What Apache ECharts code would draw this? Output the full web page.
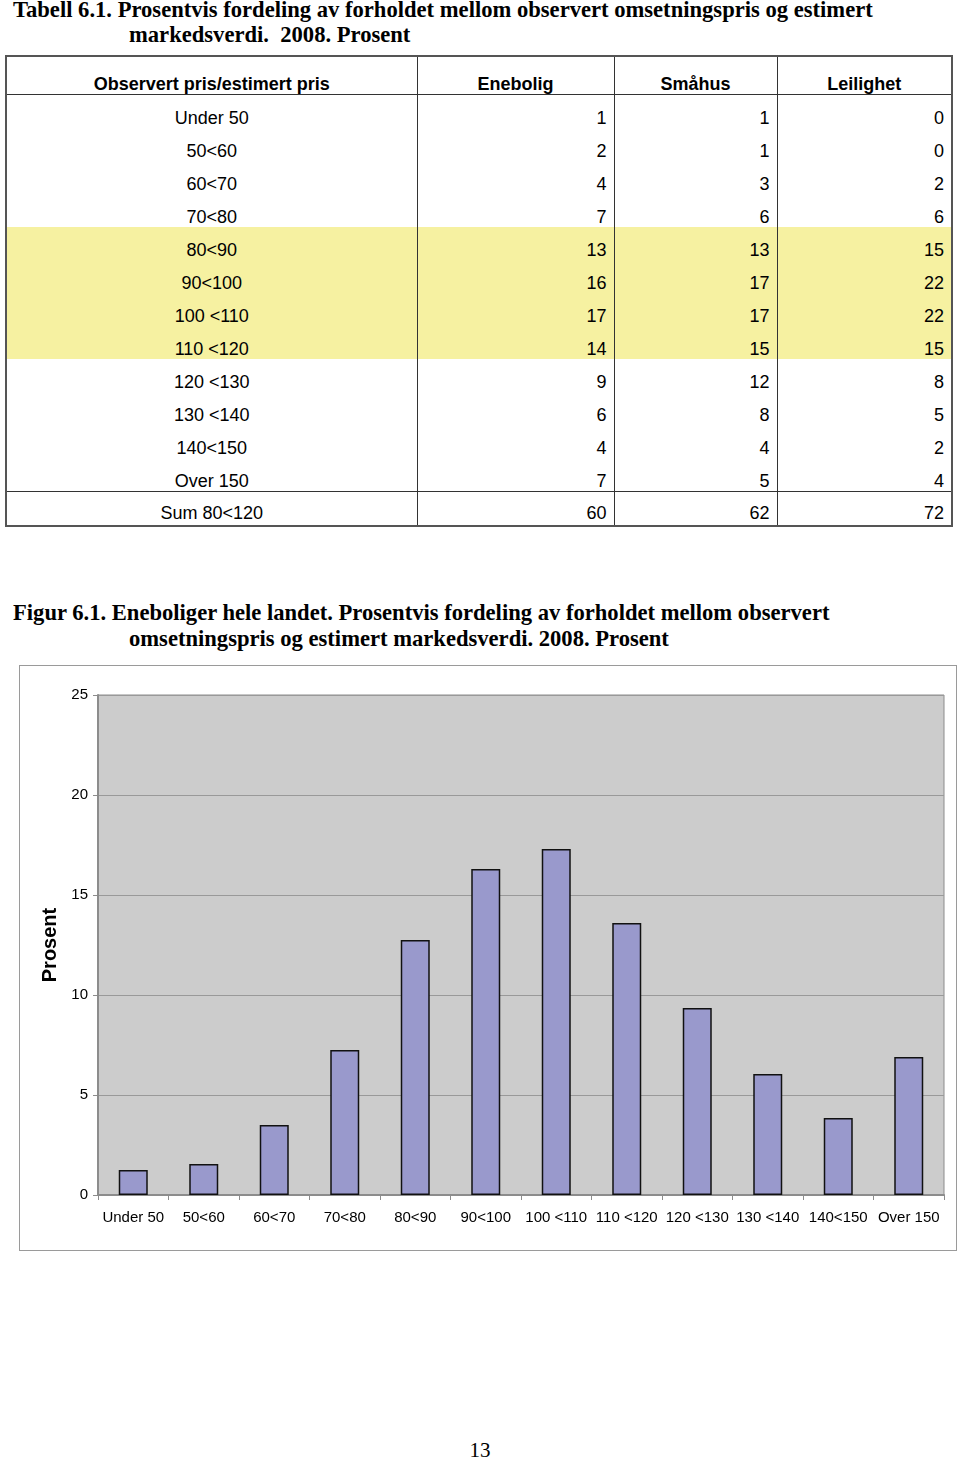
<!DOCTYPE html>
<html>
<head>
<meta charset="utf-8">
<script src="https://cdn.jsdelivr.net/npm/echarts@6/dist/echarts.min.js"></script>
<style>
  html, body { margin: 0; padding: 0; background: #fff; }
  body { width: 960px; height: 1461px; position: relative; overflow: hidden; }
  .ttl { position: absolute; font-family: "Liberation Serif", "Times New Roman", serif; font-weight: bold; font-size: 22.6px; color: #000; white-space: nowrap; line-height: 26px; }
  #tbl { position: absolute; left: 5px; top: 55px; border-collapse: collapse; table-layout: fixed; font-family: "Liberation Sans", Arial, sans-serif; font-size: 18px; color: #000; border: 2px solid #555; }
  #tbl td, #tbl th { padding: 0 7px; height: 33px; box-sizing: border-box; }
  #tbl td { padding-top: 13px; line-height: 20px; vertical-align: top; }
  #tbl th { font-weight: bold; height: 38px; vertical-align: bottom; line-height: 20px; padding-bottom: 0; border-bottom: 1.5px solid #333; }
  #tbl td.c0, #tbl th.c0 { text-align: center; }
  #tbl td.n { text-align: right; }
  #tbl .bl { border-left: 1px solid #333; }
  #tbl tr.hl td { background: #f6f1a1; }
  #tbl tr.sum td { border-top: 1.5px solid #333; height: 33px; padding-top: 9px; line-height: 24px; }
  #chartbox { position: absolute; left: 19px; top: 665px; width: 936px; height: 584px; border: 1px solid #9a9a9a; }
  #chart { width: 936px; height: 584px; }
  #pg { position: absolute; left: 0; width: 960px; top: 1438px; text-align: center; font-family: "Liberation Serif", "Times New Roman", serif; font-size: 21px; }
</style>
</head>
<body>
<div class="ttl" style="left:13px; top:-3px;">Tabell 6.1. Prosentvis fordeling av forholdet mellom observert omsetningspris og estimert</div>
<div class="ttl" style="left:129px; top:22px;">markedsverdi.&nbsp; 2008. Prosent</div>
<table id="tbl"></table>
<div class="ttl" style="left:13px; top:600px;">Figur 6.1. Eneboliger hele landet. Prosentvis fordeling av forholdet mellom observert</div>
<div class="ttl" style="left:129px; top:626px;">omsetningspris og estimert markedsverdi. 2008. Prosent</div>
<div id="chartbox"><div id="chart"></div></div>
<div id="pg">13</div>
<script>
// ---- Data ----
const tableHeaders = ["Observert pris/estimert pris", "Enebolig", "Småhus", "Leilighet"];
const tableCategories = ["Under 50", "50<60", "60<70", "70<80", "80<90", "90<100", "100 <110", "110 <120", "120 <130", "130 <140", "140<150", "Over 150"];
const enebolig = [1, 2, 4, 7, 13, 16, 17, 14, 9, 6, 4, 7];
const smahus = [1, 1, 3, 6, 13, 17, 17, 15, 12, 8, 4, 5];
const leilighet = [0, 0, 2, 6, 15, 22, 22, 15, 8, 5, 2, 4];
const highlightRows = ["80<90", "90<100", "100 <110", "110 <120"];
const sumLabel = "Sum 80<120";
const sumValues = [60, 62, 72];

const chartCategories = ["Under 50", "50<60", "60<70", "70<80", "80<90", "90<100", "100 <110", "110 <120", "120 <130", "130 <140", "140<150", "Over 150"];
const chartValues = [1.25, 1.55, 3.5, 7.25, 12.75, 16.3, 17.3, 13.6, 9.35, 6.05, 3.85, 6.9];
const yTicks = { min: 0, max: 25, interval: 5 };
const yAxisName = "Prosent";

// ---- Table ----
const tbl = document.getElementById('tbl');
const colW = [411, 197, 163, 175];
let html = '<colgroup>' + colW.map(w => '<col style="width:' + w + 'px">').join('') + '</colgroup><tr>';
tableHeaders.forEach((h, i) => {
  html += '<th class="' + (i === 0 ? 'c0' : 'bl') + '"' + (i > 0 ? ' style="text-align:center"' : '') + '>' + h + '</th>';
});
html += '</tr>';
const esc = s => s.replace(/</g, '&lt;');
tableCategories.forEach((c, i) => {
  const hl = highlightRows.indexOf(c) >= 0;
  html += '<tr' + (hl ? ' class="hl"' : '') + '><td class="c0">' + esc(c) + '</td>' +
    '<td class="n bl">' + enebolig[i] + '</td><td class="n bl">' + smahus[i] + '</td><td class="n bl">' + leilighet[i] + '</td></tr>';
});
html += '<tr class="sum"><td class="c0">' + esc(sumLabel) + '</td>' + sumValues.map(v => '<td class="n bl">' + v + '</td>').join('') + '</tr>';
tbl.innerHTML = html;

// ---- Chart ----
const chart = echarts.init(document.getElementById('chart'), null, { renderer: 'canvas' });
chart.setOption({
  animation: false,
  backgroundColor: '#ffffff',
  grid: {
    left: 78, right: 12, top: 29, bottom: 55,
    show: true, backgroundColor: '#cccccc', borderColor: '#8c8c8c', borderWidth: 1
  },
  xAxis: {
    type: 'category',
    data: chartCategories,
    axisLine: { show: true, lineStyle: { color: '#8c8c8c', width: 2 } },
    axisTick: { show: true, alignWithLabel: false, length: 5, lineStyle: { color: '#8c8c8c' } },
    axisLabel: { interval: 0, color: '#000', fontFamily: 'Liberation Sans, Arial, sans-serif', fontSize: 15, margin: 15 }
  },
  yAxis: {
    type: 'value',
    min: yTicks.min, max: yTicks.max, interval: yTicks.interval,
    name: yAxisName,
    nameLocation: 'middle',
    nameGap: 37,
    nameRotate: 90,
    nameTextStyle: { color: '#000', fontFamily: 'Liberation Sans, Arial, sans-serif', fontSize: 20, fontWeight: 'bold' },
    axisLine: { show: true, lineStyle: { color: '#8c8c8c', width: 2 } },
    axisTick: { show: true, length: 5, lineStyle: { color: '#8c8c8c' } },
    axisLabel: { color: '#000', fontFamily: 'Liberation Sans, Arial, sans-serif', fontSize: 15, margin: 10 },
    splitLine: { show: true, lineStyle: { color: '#999999', width: 1 } }
  },
  series: [{
    type: 'bar',
    data: chartValues,
    barWidth: 29,
    itemStyle: { color: '#9999cc', borderColor: '#111', borderWidth: 1.5 }
  }]
});
</script>
</body>
</html>
